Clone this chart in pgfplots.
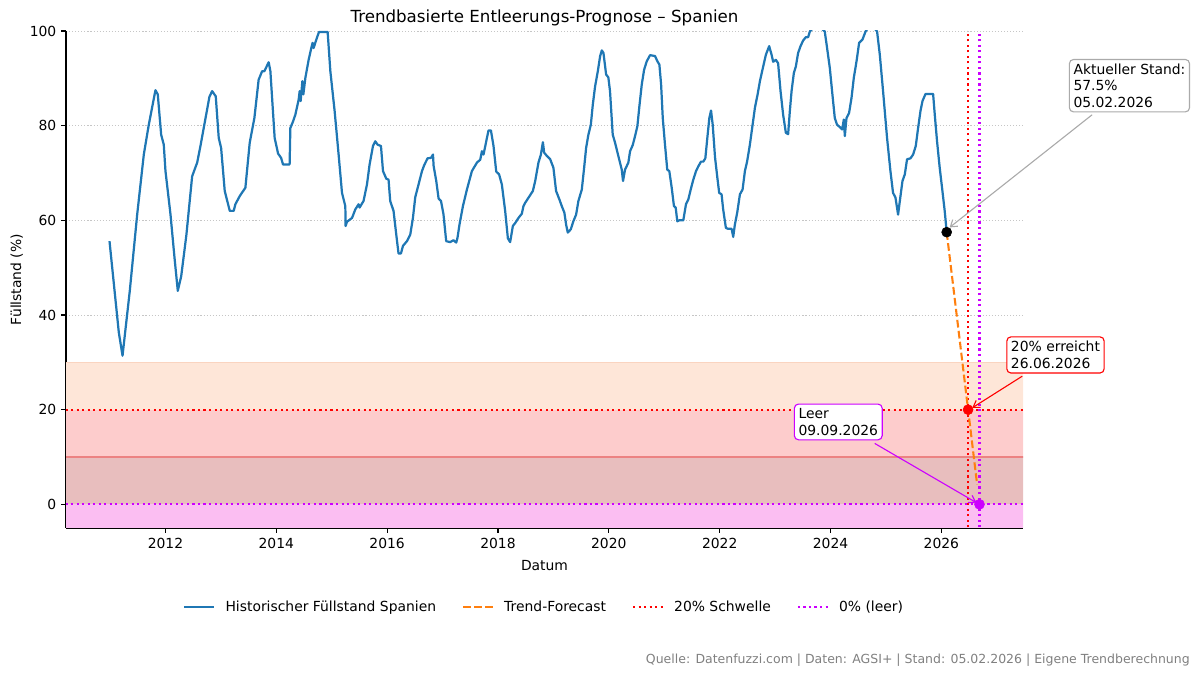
\documentclass[border=0pt]{standalone}
\usepackage{fontspec}
\setmainfont{DejaVu Sans}
\usepackage{pgfplots}
\pgfplotsset{compat=1.18}
\usetikzlibrary{arrows.meta}

\definecolor{mplblue}{HTML}{1F77B4}
\definecolor{mplorange}{HTML}{FF7F0E}
\definecolor{leerviolet}{HTML}{CC00FF}
\definecolor{bandA}{RGB}{254,230,216}
\definecolor{bandB}{RGB}{253,204,204}
\definecolor{bandC}{RGB}{232,190,190}
\definecolor{bandD}{RGB}{251,190,242}
\definecolor{footgray}{RGB}{128,128,128}
\definecolor{boxgray}{RGB}{170,170,170}

% axis lines and ticks above the plotted bands, grid below
\pgfplotsset{
  layers/linesontop/.define layer set={axis background,axis grid,main,axis ticks,axis lines,axis tick labels,axis descriptions,axis foreground}{},
}

\tikzset{
  dotline/.style={line width=1.5bp, dash pattern=on 1.5bp off 2.475bp},
  annbox/.style={fill=white, rounded corners=3bp, line width=0.8bp, inner xsep=3bp,
    inner ysep=3.3bp, align=left, anchor=north west, font=\fontsize{10bp}{11.7bp}\selectfont},
  annarrow/.style={line width=0.8bp, -{Straight Barb[length=4.5bp,width=6bp]}},
}

\begin{document}
\begin{tikzpicture}
\begin{axis}[
    name=ax,
    set layers=linesontop,
    scale only axis,
    width=689.04bp, height=357.84bp,
    xmin=2010.205, xmax=2027.473,
    ymin=-5, ymax=100,
    axis lines*=left,
    axis line style={line width=0.8bp, black},
    tick align=outside,
    major tick length=3.5bp,
    every tick/.style={black, line width=0.8bp},
    xtick={2012,2014,...,2026},
    xticklabels={2012,2014,2016,2018,2020,2022,2024,2026},
    ytick={0,20,40,60,80,100},
    ymajorgrids,
    grid style={gray!45, line width=0.6bp, dash pattern=on 0.8bp off 1.4bp},
    tick label style={font=\fontsize{10bp}{12bp}\selectfont},
    /pgf/number format/assume math mode=true,
    clip mode=individual,
    title={Trendbasierte Entleerungs-Prognose – Spanien},
    every axis title/.style={at={(0.5,1)}, anchor=base, yshift=5.8bp,
      font=\fontsize{12bp}{14bp}\selectfont},
    xlabel={Datum},
    every axis x label/.style={at={(axis description cs:0.5,-0.0865)}, anchor=base,
      font=\fontsize{10bp}{12bp}\selectfont},
    ylabel={Füllstand (\%)},
    every axis y label/.style={at={(axis description cs:-0.047,0.5)}, rotate=90, anchor=base,
      font=\fontsize{10bp}{12bp}\selectfont},
    legend columns=4,
    legend image code/.code={\draw[#1] (0bp,0bp) -- (21.6bp,0bp);},
    legend style={at={(0.5,-0.159)}, anchor=center, draw=none, fill=none,
      font=\fontsize{10bp}{12bp}\selectfont,
      /tikz/every odd column/.append style={column sep=5.3bp},
      /tikz/every even column/.append style={column sep=16.7bp}},
]

% Warnbaender
\addplot[draw=none, fill=bandA, forget plot] coordinates {(2009,20) (2029,20) (2029,30) (2009,30)} -- cycle;
\addplot[draw=none, fill=bandB, forget plot] coordinates {(2009,10) (2029,10) (2029,20) (2009,20)} -- cycle;
\addplot[draw=none, fill=bandC, forget plot] coordinates {(2009,0) (2029,0) (2029,10) (2009,10)} -- cycle;
\addplot[draw=none, fill=bandD, forget plot] coordinates {(2009,-6) (2029,-6) (2029,0) (2009,0)} -- cycle;
\addplot[color={rgb,255:red,250;green,212;blue,192}, line width=0.6bp, forget plot] coordinates {(2009,30) (2029,30)};
\addplot[color={rgb,255:red,236;green,130;blue,130}, line width=0.8bp, forget plot] coordinates {(2009,10) (2029,10)};

% Schwellen
\addplot[red, dotline, forget plot] coordinates {(2009,20) (2029,20)};
\addplot[leerviolet, dotline, forget plot] coordinates {(2009,0) (2029,0)};
\addplot[red, dotline, forget plot] coordinates {(2026.482,-6) (2026.482,101)};
\addplot[leerviolet, dotline, forget plot] coordinates {(2026.688,-6) (2026.688,101)};

% Historischer Fuellstand
\addplot[mplblue, line width=1.6bp, line join=round, forget plot] coordinates {
(2010.990,55.6) (2011.158,36.3) (2011.225,31.4) (2011.356,45.1) (2011.490,61.3)
(2011.609,73.9) (2011.699,80.2) (2011.819,87.5) (2011.861,86.6) (2011.922,78.1)
(2011.969,76.0) (2012.000,70.4) (2012.090,61.3) (2012.163,52.1) (2012.222,45.1)
(2012.284,48.2) (2012.378,57.0) (2012.481,69.3) (2012.572,72.2) (2012.631,75.7)
(2012.690,79.5) (2012.751,83.4) (2012.793,86.1) (2012.842,87.3) (2012.907,86.2)
(2012.961,77.4) (2013.004,75.3) (2013.069,66.2) (2013.160,62.0) (2013.231,62.0)
(2013.261,63.4) (2013.339,65.1) (2013.442,66.9) (2013.520,76.4) (2013.604,81.6)
(2013.681,89.7) (2013.743,91.5) (2013.784,91.5) (2013.862,93.4) (2013.893,91.5)
(2013.970,77.4) (2014.032,74.1) (2014.086,73.2) (2014.121,71.8) (2014.240,71.8)
(2014.253,79.5) (2014.302,80.9) (2014.343,82.3) (2014.403,85.5) (2014.421,87.3)
(2014.439,85.2) (2014.470,89.4) (2014.488,86.6) (2014.524,90.1) (2014.583,93.9)
(2014.631,96.4) (2014.655,97.5) (2014.673,96.4) (2014.722,98.2) (2014.770,99.8)
(2014.926,99.8) (2014.975,91.5) (2015.052,83.1) (2015.124,73.9) (2015.185,65.8)
(2015.245,63.0) (2015.250,58.8) (2015.275,59.7) (2015.366,60.5) (2015.425,62.3)
(2015.485,63.4) (2015.503,62.7) (2015.574,64.1) (2015.636,67.6) (2015.683,71.8)
(2015.744,75.7) (2015.785,76.7) (2015.827,76.0) (2015.888,75.7) (2015.925,70.4)
(2015.984,68.8) (2016.025,68.6) (2016.055,64.1) (2016.115,62.0) (2016.164,57.0)
(2016.205,53.0) (2016.249,53.0) (2016.285,54.6) (2016.357,55.6) (2016.417,57.0)
(2016.465,60.5) (2016.507,64.9) (2016.567,67.6) (2016.628,70.4) (2016.670,71.7)
(2016.729,73.1) (2016.791,73.2) (2016.827,73.9) (2016.838,71.5) (2016.886,68.3)
(2016.928,64.6) (2016.971,64.1) (2017.016,61.3) (2017.065,55.6) (2017.137,55.4)
(2017.197,55.8) (2017.246,55.3) (2017.269,56.3) (2017.305,59.1) (2017.367,63.0)
(2017.439,66.5) (2017.529,70.4) (2017.620,72.2) (2017.679,72.8) (2017.710,74.6)
(2017.739,73.9) (2017.800,77.4) (2017.829,79.0) (2017.872,79.0) (2017.919,75.7)
(2017.968,70.3) (2018.020,69.7) (2018.069,67.6) (2018.129,62.0) (2018.178,56.2)
(2018.219,55.4) (2018.268,58.8) (2018.309,59.4) (2018.369,60.5) (2018.430,61.4)
(2018.459,63.0) (2018.490,63.7) (2018.568,65.1) (2018.629,66.2) (2018.671,68.3)
(2018.730,72.2) (2018.774,73.9) (2018.810,76.5) (2018.833,74.3) (2018.882,73.6)
(2018.942,72.9) (2019.000,71.1) (2019.048,66.2) (2019.108,64.4) (2019.151,63.0)
(2019.198,61.6) (2019.229,59.1) (2019.259,57.4) (2019.313,58.1) (2019.360,59.8)
(2019.409,61.2) (2019.451,64.1) (2019.512,66.5) (2019.554,71.1) (2019.590,75.3)
(2019.631,78.1) (2019.675,80.2) (2019.711,84.5) (2019.752,88.3) (2019.801,91.5)
(2019.843,94.7) (2019.873,95.9) (2019.902,95.4) (2019.951,90.8) (2019.991,90.2)
(2020.021,87.3) (2020.070,78.1) (2020.112,76.4) (2020.171,73.6) (2020.233,70.7)
(2020.256,68.3) (2020.292,70.7) (2020.352,72.2) (2020.383,74.6) (2020.431,75.9)
(2020.473,77.8) (2020.515,79.9) (2020.551,84.1) (2020.594,88.7) (2020.636,91.8)
(2020.684,93.6) (2020.744,94.9) (2020.834,94.7) (2020.876,93.6) (2020.912,92.9)
(2020.943,88.7) (2020.973,81.6) (2021.013,76.0) (2021.054,70.7) (2021.091,70.4)
(2021.134,66.9) (2021.175,63.0) (2021.206,62.7) (2021.235,59.8) (2021.271,60.0)
(2021.343,60.0) (2021.392,63.4) (2021.434,64.4) (2021.477,66.5) (2021.524,68.6)
(2021.573,70.4) (2021.614,71.4) (2021.663,72.4) (2021.705,72.4) (2021.741,73.1)
(2021.777,77.4) (2021.813,81.6) (2021.844,83.2) (2021.874,80.2) (2021.916,73.3)
(2021.958,69.0) (2021.991,65.8) (2022.034,65.5) (2022.063,62.3) (2022.112,58.4)
(2022.153,58.2) (2022.215,58.2) (2022.244,56.5) (2022.274,59.1) (2022.316,61.6)
(2022.365,65.5) (2022.413,66.5) (2022.455,70.4) (2022.496,72.5) (2022.545,76.0)
(2022.594,80.2) (2022.636,83.8) (2022.684,86.6) (2022.726,89.4) (2022.785,92.5)
(2022.834,95.0) (2022.893,96.8) (2022.936,95.0) (2022.965,93.5) (2023.013,93.9)
(2023.054,93.2) (2023.098,87.3) (2023.145,82.3) (2023.194,78.5) (2023.235,78.2)
(2023.266,83.1) (2023.297,87.3) (2023.338,91.1) (2023.374,92.5) (2023.416,95.4)
(2023.459,96.8) (2023.506,98.0) (2023.555,98.7) (2023.596,98.7) (2023.627,99.9)
(2023.754,101.5) (2023.896,99.9) (2023.938,96.4) (2023.987,92.2) (2024.028,87.3)
(2024.077,81.6) (2024.118,80.2) (2024.167,79.7) (2024.209,79.2) (2024.240,81.3)
(2024.258,77.8) (2024.288,81.6) (2024.335,82.7) (2024.379,85.9) (2024.420,90.1)
(2024.469,93.6) (2024.516,97.5) (2024.577,98.2) (2024.632,99.9) (2024.727,101.5)
(2024.840,99.9) (2024.889,95.0) (2024.948,87.3) (2025.020,77.4) (2025.081,70.4)
(2025.128,65.8) (2025.172,64.8) (2025.219,61.2) (2025.262,65.1) (2025.298,68.3)
(2025.340,69.7) (2025.381,72.9) (2025.443,73.1) (2025.490,73.9) (2025.538,75.7)
(2025.580,79.5) (2025.623,83.1) (2025.659,85.2) (2025.714,86.7) (2025.851,86.7)
(2025.881,82.3) (2025.922,76.7) (2025.970,71.1) (2026.019,66.2) (2026.060,62.0)
(2026.096,57.5)
};

% Trend-Forecast
\addplot[mplorange, line width=1.5bp, dash pattern=on 5.55bp off 2.4bp, forget plot]
  coordinates {(2026.096,57.5) (2026.645,4.2)};

% Punkte
\addplot[only marks, mark=*, mark size=3.6bp, black, forget plot] coordinates {(2026.096,57.5)};
\addplot[only marks, mark=*, mark size=3.6bp, red, forget plot] coordinates {(2026.482,20)};
\addplot[only marks, mark=*, mark size=3.6bp, leerviolet, forget plot] coordinates {(2026.688,0)};

% Legende
\addlegendimage{mplblue, line width=1.6bp}
\addlegendentry{Historischer Füllstand Spanien}
\addlegendimage{mplorange, line width=1.5bp, dash pattern=on 5.55bp off 2.4bp}
\addlegendentry{Trend-Forecast}
\addlegendimage{red, dotline}
\addlegendentry{20\% Schwelle}
\addlegendimage{leerviolet, dotline}
\addlegendentry{0\% (leer)}

% Annotationen
\draw[annarrow, boxgray] (axis cs:2028.72,82.3) -- (axis cs:2026.149,58.5);
\node[annbox, draw=boxgray] at (axis cs:2028.30,94.1) {Aktueller Stand:\\57.5\%\\05.02.2026};
\draw[annarrow, red] (axis cs:2027.459,27.07) -- (axis cs:2026.558,20.4);
\node[annbox, draw=red] at (axis cs:2027.171,35.5) {20\% erreicht\\26.06.2026};
\draw[annarrow, leerviolet] (axis cs:2024.797,12.87) -- (axis cs:2026.631,0.36);
\node[annbox, draw=leerviolet] at (axis cs:2023.337,21.3) {Leer\\09.09.2026};

\node[anchor=base east, text=footgray, font=\fontsize{9bp}{11bp}\selectfont, inner sep=0pt]
  at (rel axis cs:1.1745,-0.2736) {Quelle: Datenfuzzi.com | Daten: AGSI+ | Stand: 05.02.2026 | Eigene Trendberechnung};
\end{axis}
\pgfresetboundingbox
\path[use as bounding box] ([shift={(-47.52bp,-106.56bp)}]ax.south west) rectangle ([shift={(127.44bp,22.32bp)}]ax.north east);
\end{tikzpicture}
\end{document}
